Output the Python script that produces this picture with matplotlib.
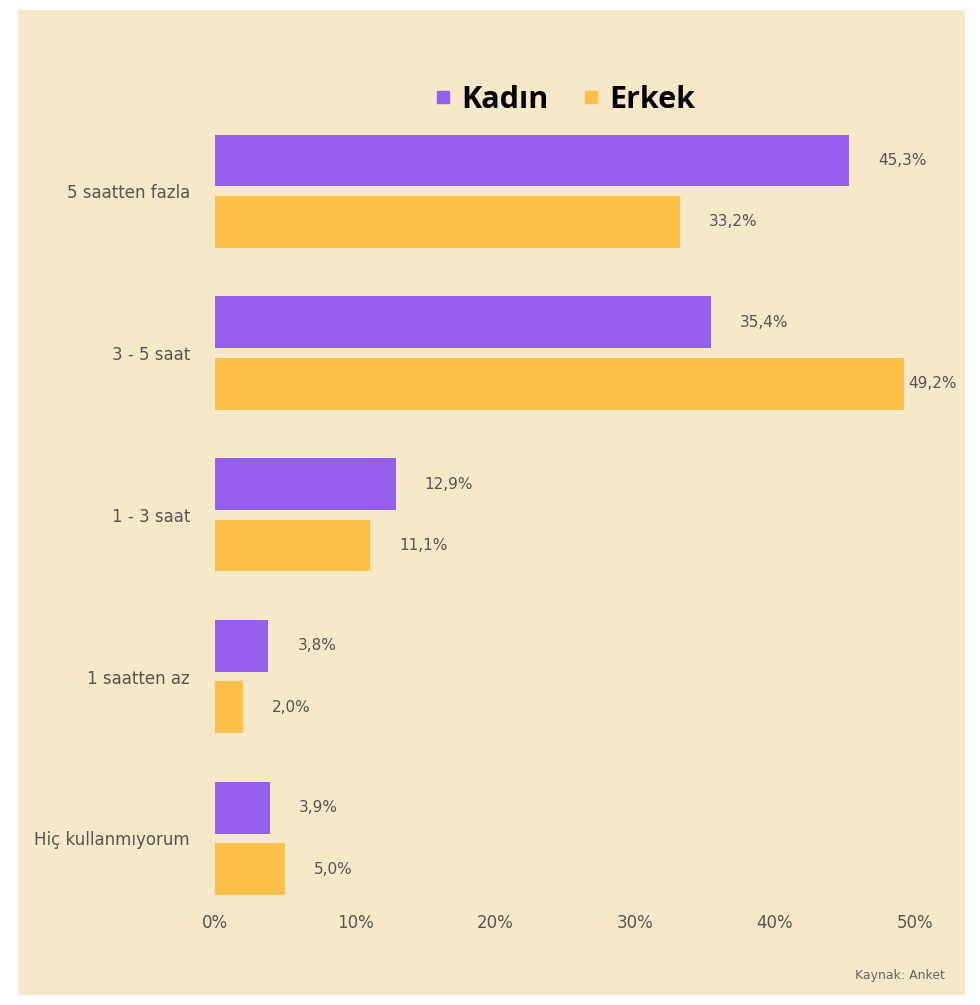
import numpy as np
import matplotlib.pyplot as plt
from matplotlib.lines import Line2D
from matplotlib.patches import Rectangle

# Data (percent)
categories = ["5 saatten fazla", "3 - 5 saat", "1 - 3 saat", "1 saatten az", "Hiç kullanmıyorum"]
kadin = [45.3, 35.4, 12.9, 3.8, 3.9]
erkek = [33.2, 49.2, 11.1, 2.0, 5.0]
xticks = [0, 10, 20, 30, 40, 50]

purple = "#9560F0"
orange = "#FBBF4A"
bg = "#F7E8C7"

fig = plt.figure(figsize=(9.8, 10.05), dpi=100, facecolor="white")
fig.patches.append(Rectangle((18 / 980, 10 / 1005), (965 - 18) / 980, (995 - 10) / 1005,
                             transform=fig.transFigure, facecolor=bg, edgecolor="none", zorder=-10))

ax = fig.add_axes([215 / 980, 1 - 895 / 1005, 700 / 980, 775 / 1005])
ax.patch.set_alpha(0)

y = np.arange(len(categories))
h = 0.32
off = 0.19
b1 = ax.barh(y - off, kadin, height=h, color=purple)
b2 = ax.barh(y + off, erkek, height=h, color=orange)

for bars, vals in ((b1, kadin), (b2, erkek)):
    for bar, v in zip(bars, vals):
        dx = 21 if v < 47 else 3  # keep the label inside the frame near the right edge
        ax.annotate(f"{v:.1f}%".replace(".", ","), (bar.get_width(), bar.get_y() + bar.get_height() / 2),
                    xytext=(dx, 0), textcoords="offset points", va="center", ha="left",
                    fontsize=11, color="#555555", annotation_clip=False)

ax.set_xlim(0, 50)
ax.set_ylim(4.35, -0.44)
ax.set_yticks(y)
ax.set_yticklabels(categories, fontsize=12, color="#555555")
ax.set_xticks(xticks)
ax.set_xticklabels([f"{t}%" for t in xticks], fontsize=12, color="#555555")
ax.tick_params(length=0)
ax.tick_params(axis="x", pad=14)
ax.tick_params(axis="y", pad=18)
for s in ax.spines.values():
    s.set_visible(False)

handles = [Line2D([], [], marker="s", linestyle="none", color=purple, markersize=8),
           Line2D([], [], marker="s", linestyle="none", color=orange, markersize=8)]
fig.legend(handles, ["Kadın", "Erkek"], loc="center", bbox_to_anchor=(560 / 980, 1 - 100 / 1005),
           ncol=2, frameon=False, handletextpad=0.0, columnspacing=0.8, handlelength=1.2,
           prop={"family": "Open Sans", "weight": "bold", "size": 22})

fig.text(900 / 980, 1 - 975 / 1005, "Kaynak: Anket", fontsize=9, color="#666666", ha="center", va="center")

fig.savefig("out.png", dpi=100, facecolor=fig.get_facecolor())
